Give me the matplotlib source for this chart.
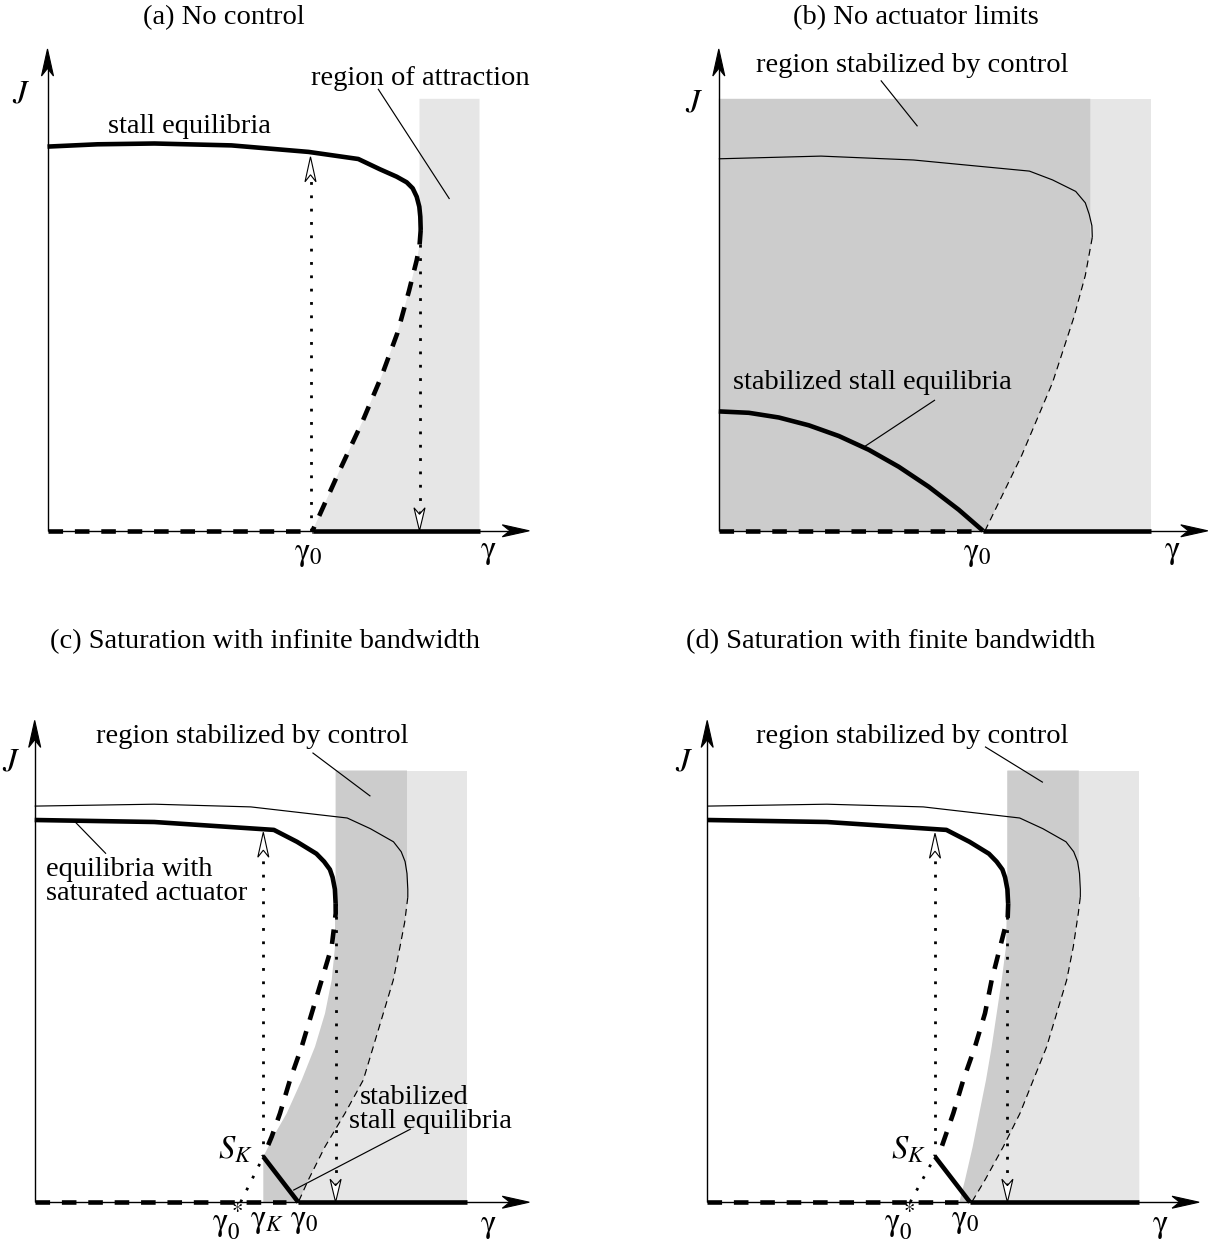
import numpy as np
import matplotlib
matplotlib.use("Agg")
import matplotlib.pyplot as plt
from matplotlib.patches import Polygon

plt.rcParams['font.family'] = ['Liberation Serif', 'DejaVu Serif']
plt.rcParams['mathtext.fontset'] = 'stix'
plt.rcParams['lines.scale_dashes'] = False

# ---------------------------------------------------------------- data (γ, J)
# (a) No control
a_stall_g = [0.0, 0.5, 1.07, 1.84, 2.61, 3.108, 3.325, 3.492, 3.592, 3.652, 3.692, 3.718, 3.728, 3.732]
a_stall_J = [3.842, 3.865, 3.873, 3.854, 3.789, 3.718, 3.615, 3.541, 3.485, 3.425, 3.341, 3.241, 3.141, 3.008]
a_unst_g = [3.732, 3.72, 3.692, 3.615, 3.499, 3.345, 3.152, 2.92, 2.65]
a_unst_J = [3.008, 2.85, 2.706, 2.399, 1.978, 1.558, 1.098, 0.601, 0.0]
a_gamma0 = 2.65
a_region = (3.72, 4.32, 4.32)          # left γ, right γ, top J
a_jump_up = (2.63, 3.74)               # γ, J reached on the stall branch
a_jump_down = (3.72, 3.0)              # γ, J at the fold

# (b) No actuator limits
b_open_g = [0.0, 1.022, 1.948, 3.106, 3.337, 3.569, 3.665, 3.704, 3.731, 3.735]
b_open_J = [3.72, 3.747, 3.708, 3.597, 3.509, 3.394, 3.28, 3.165, 3.05, 2.935]
b_open_unst_g = [3.735, 3.665, 3.55, 3.337, 3.029, 2.662]
b_open_unst_J = [2.935, 2.553, 2.132, 1.481, 0.754, 0.0]
b_stab_g = [0.0, 0.3, 0.6, 0.9, 1.2, 1.5, 1.8, 2.1, 2.4, 2.642]
b_stab_J = [1.194, 1.18, 1.133, 1.055, 0.948, 0.81, 0.64, 0.44, 0.21, 0.0]
b_gamma0 = 2.642
b_region = (3.715, 4.322, 4.32)

# (c) Saturation with infinite bandwidth
c_open_g = [0.0, 1.196, 2.161, 3.125, 3.357, 3.588, 3.665, 3.704, 3.723, 3.731, 3.731]
c_open_J = [3.961, 3.98, 3.953, 3.842, 3.735, 3.604, 3.505, 3.406, 3.287, 3.129, 3.05]
c_open_unst_g = [3.731, 3.70, 3.653, 3.586, 3.486, 3.386, 3.286, 3.103, 2.903, 2.736, 2.636]
c_open_unst_J = [3.05, 2.8, 2.555, 2.222, 1.889, 1.555, 1.222, 0.889, 0.555, 0.222, 0.0]
c_sat_g = [0.0, 1.196, 2.392, 2.623, 2.817, 2.894, 2.952, 2.979, 3.002, 3.009]
c_sat_J = [3.822, 3.802, 3.723, 3.604, 3.485, 3.406, 3.327, 3.248, 3.129, 2.99]
c_sat_unst_g = [3.009, 3.01, 2.97, 2.87, 2.77, 2.67, 2.553, 2.453, 2.37, 2.286]
c_sat_unst_J = [2.99, 2.888, 2.555, 2.222, 1.889, 1.555, 1.222, 0.889, 0.655, 0.455]
c_band_left_g = [3.009, 3.009, 3.003, 3.003, 2.97, 2.903, 2.803, 2.67, 2.52, 2.386, 2.286, 2.286]
c_band_left_J = [4.317, 3.22, 2.89, 2.555, 2.222, 1.888, 1.555, 1.222, 0.888, 0.655, 0.455, 0.0]
c_SK = (2.286, 0.455)
c_gamma0 = 2.636
c_gamma0_star = 2.059
c_region = (3.009, 3.723, 4.321, 4.317)   # left γ, stabilized right γ, right γ, top J
c_jump_up_J = 3.70
c_jump_down = (3.009, 2.99)

# (d) Saturation with finite bandwidth
d_open_g = c_open_g
d_open_J = c_open_J
d_open_unst_g = [3.731, 3.711, 3.661, 3.595, 3.495, 3.395, 3.261, 3.128, 2.961, 2.778, 2.645]
d_open_unst_J = [3.05, 2.889, 2.555, 2.222, 1.889, 1.555, 1.222, 0.889, 0.555, 0.222, 0.0]
d_sat_g = c_sat_g
d_sat_J = c_sat_J
d_sat_unst_g = [3.01, 3.005, 2.93, 2.845, 2.778, 2.678, 2.561, 2.461, 2.345, 2.278]
d_sat_unst_J = [2.99, 2.85, 2.555, 2.222, 1.889, 1.555, 1.222, 0.889, 0.555, 0.455]
d_band_left_g = [3.002, 3.002, 2.988, 2.945, 2.895, 2.845, 2.788, 2.721, 2.655, 2.578, 2.521]
d_band_left_J = [4.317, 3.22, 2.555, 2.222, 1.889, 1.555, 1.222, 0.889, 0.555, 0.222, 0.0]
d_SK = (2.278, 0.455)
d_gamma0 = 2.628
d_gamma0_star = 2.03
d_region = (3.002, 3.716, 4.321, 4.317)
d_jump_up_J = 3.69
d_jump_down = (3.002, 2.99)

# ---------------------------------------------------------------- styling
W, H = 1210, 1241
LIGHT = '#e6e6e6'
DARK = '#cccccc'
FS = 20.5
FS_MATH = 23.5
THICK = 3.3
THIN = 0.85
AX_LW = 1.0
DASH_THICK = (10.5, 8.5)
DASH_THIN = (5.0, 3.5)
DOTS = (2.0, 7.6)

fig = plt.figure(figsize=(W / 100, H / 100), dpi=100)


def panel(box, origin):
    """Axes whose data unit is 100 px, with (0, 0) at the given pixel origin."""
    x0, y0, x1, y1 = box
    ox, oy = origin
    ax = fig.add_axes([x0 / W, 1 - y1 / H, (x1 - x0) / W, (y1 - y0) / H])
    ax.set_xlim((x0 - ox) / 100, (x1 - ox) / 100)
    ax.set_ylim((oy - y1) / 100, (oy - y0) / 100)
    ax.axis('off')
    return ax


def head(ax, tip, d, length=0.27, width=0.12, filled=True, z=7):
    tip = np.asarray(tip, float)
    d = np.asarray(d, float)
    d = d / np.linalg.norm(d)
    n = np.array([-d[1], d[0]])
    base = tip - length * d
    pts = [tip, base + n * width / 2, tip - 0.72 * length * d, base - n * width / 2]
    ax.add_patch(Polygon(pts, closed=True, fc='black' if filled else 'white',
                         ec='black', lw=0.8, zorder=z, joinstyle='miter'))


def line(ax, g, J, lw, dashes=None, z=5):
    ln, = ax.plot(g, J, color='black', lw=lw, zorder=z, solid_capstyle='butt',
                  solid_joinstyle='round', dash_capstyle='butt')
    if dashes is not None:
        ln.set_dashes(dashes)
    return ln


def axes_arrows(ax, xlen, ylen):
    line(ax, [0, xlen - 0.15], [0, 0], AX_LW, z=3)
    line(ax, [0, 0], [0, ylen - 0.15], AX_LW, z=3)
    head(ax, (xlen, 0), (1, 0))
    head(ax, (0, ylen), (0, 1))


def dotted_arrow(ax, start, tip, hl=0.25):
    start = np.asarray(start, float)
    tip = np.asarray(tip, float)
    d = (tip - start) / np.linalg.norm(tip - start)
    end = tip - hl * 0.7 * d
    line(ax, [start[0], end[0]], [start[1], end[1]], 2.0, DOTS, z=6)
    head(ax, tip, d, length=hl, width=0.11, filled=False)


def txt(ax, x, y, s, ha='center', va='center', fs=FS):
    ax.text(x, y, s, ha=ha, va=va, fontsize=fs, zorder=10, clip_on=False)


def mtxt(ax, x, y, s, ha='center', va='center'):
    txt(ax, x, y, s, ha=ha, va=va, fs=FS_MATH)


def leader(ax, p, q):
    line(ax, [p[0], q[0]], [p[1], q[1]], THIN, z=8)


G0 = r'$\mathrm{\gamma}_0$'
GAM = r'$\mathrm{\gamma}$'

# ---------------------------------------------------------------- (a)
ax = panel((0, 0, 605, 610), (47.5, 530.8))
l, r, top = a_region
roa = list(zip(a_unst_g[::-1], a_unst_J[::-1])) + [(l, a_unst_J[0]), (l, top), (r, top), (r, 0)]
ax.add_patch(Polygon(roa, closed=True, fc=LIGHT, ec='none', zorder=1))
axes_arrows(ax, 4.818, 4.818)
line(ax, [0, a_gamma0], [0, 0], THICK, DASH_THICK)
line(ax, [a_gamma0, r], [0, 0], THICK)
line(ax, a_stall_g, a_stall_J, THICK)
line(ax, a_unst_g, a_unst_J, THICK, DASH_THICK)
dotted_arrow(ax, (a_jump_up[0], 0), a_jump_up)
dotted_arrow(ax, a_jump_down, (a_jump_down[0], 0), hl=0.23)
txt(ax, 1.765, 5.136, '(a) No control')
txt(ax, 3.73, 4.523, 'region of attraction')
leader(ax, (3.305, 4.42), (4.02, 3.318))
txt(ax, 1.422, 4.045, 'stall equilibria')
mtxt(ax, -0.265, 4.37, r'$J$')
mtxt(ax, 2.611, -0.23, G0)
mtxt(ax, 4.405, -0.21, GAM)

# ---------------------------------------------------------------- (b)
ax = panel((605, 0, 1210, 610), (718.8, 530.8))
l, r, top = b_region
ax.add_patch(Polygon([(0, 0), (0, top), (r, top), (r, 0)], closed=True, fc=LIGHT, ec='none', zorder=1))
stab = [(0, 0), (0, top), (l, top), (l, b_open_unst_J[0])] + list(zip(b_open_unst_g, b_open_unst_J))
ax.add_patch(Polygon(stab, closed=True, fc=DARK, ec='none', zorder=2))
axes_arrows(ax, 4.89, 4.818)
line(ax, [0, b_gamma0], [0, 0], THICK, DASH_THICK)
line(ax, [b_gamma0, r], [0, 0], THICK)
line(ax, b_open_g, b_open_J, THIN)
line(ax, b_open_unst_g, b_open_unst_J, THIN, DASH_THIN)
line(ax, b_stab_g, b_stab_J, THICK)
txt(ax, 1.968, 5.136, '(b) No actuator limits')
txt(ax, 1.932, 4.658, 'region stabilized by control')
leader(ax, (1.62, 4.504), (1.987, 4.045))
txt(ax, 1.532, 1.481, 'stabilized stall equilibria')
leader(ax, (2.162, 1.308), (1.439, 0.83))
mtxt(ax, -0.251, 4.275, r'$J$')
mtxt(ax, 2.582, -0.23, G0)
mtxt(ax, 4.532, -0.21, GAM)


# ---------------------------------------------------------------- (c), (d)
def saturated_panel(ax, region, open_g, open_J, ou_g, ou_J, sat_g, sat_J, su_g, su_J,
                    band_g, band_J, SK, gamma0, gamma0_star, jump_up_J, jump_down, xlen):
    l, rs, r, top = region
    ax.add_patch(Polygon([(l, 0), (l, top), (r, top), (r, 0)], closed=True, fc=LIGHT, ec='none', zorder=1))
    under = list(zip(ou_g, ou_J))[::-1] + [(r, ou_J[0]), (r, 0)]
    ax.add_patch(Polygon(under, closed=True, fc=LIGHT, ec='none', zorder=1))
    band = list(zip(band_g, band_J)) + list(zip(ou_g[::-1], ou_J[::-1])) + [(rs, ou_J[0]), (rs, top)]
    ax.add_patch(Polygon(band, closed=True, fc=DARK, ec='none', zorder=2))
    axes_arrows(ax, xlen, 4.818)
    line(ax, [0, gamma0 - 0.12], [0, 0], THICK, DASH_THICK)
    line(ax, [gamma0, r], [0, 0], THICK)
    line(ax, open_g, open_J, THIN)
    line(ax, ou_g, ou_J, THIN, DASH_THIN)
    line(ax, sat_g, sat_J, THICK)
    line(ax, su_g, su_J, THICK, DASH_THICK)
    line(ax, [SK[0], gamma0], [SK[1], 0], THICK)
    line(ax, [gamma0_star, SK[0]], [0, SK[1]], 2.0, DOTS, z=6)
    dotted_arrow(ax, SK, (SK[0], jump_up_J))
    dotted_arrow(ax, jump_down, (jump_down[0], 0), hl=0.23)
    mtxt(ax, -0.231, 4.396, r'$J$')
    mtxt(ax, 4.533, -0.235, GAM)


ax = panel((0, 610, 605, 1241), (34.7, 1202.2))
saturated_panel(ax, c_region, c_open_g, c_open_J, c_open_unst_g, c_open_unst_J,
                c_sat_g, c_sat_J, c_sat_unst_g, c_sat_unst_J, c_band_left_g, c_band_left_J,
                c_SK, c_gamma0, c_gamma0_star, c_jump_up_J, c_jump_down, 4.946)
txt(ax, 2.3, 5.604, '(c) Saturation with infinite bandwidth')
txt(ax, 2.173, 4.654, 'region stabilized by control')
leader(ax, (2.778, 4.495), (3.357, 4.06))
txt(ax, 0.116, 3.327, 'equilibria with', ha='left')
txt(ax, 0.116, 3.089, 'saturated actuator', ha='left')
leader(ax, (0.713, 3.485), (0.405, 3.802))
txt(ax, 3.791, 1.05, 'stabilized')
txt(ax, 3.953, 0.812, 'stall equilibria')
leader(ax, (3.762, 0.733), (2.585, 0.119))
mtxt(ax, 2.003, 0.52, r'$S_K$')
mtxt(ax, 1.933, -0.19, r'$\mathrm{\gamma}_0^*$')
mtxt(ax, 2.323, -0.19, r'$\mathrm{\gamma}_K$')
mtxt(ax, 2.693, -0.19, G0)

ax = panel((605, 610, 1210, 1241), (707.2, 1202.2))
saturated_panel(ax, d_region, d_open_g, d_open_J, d_open_unst_g, d_open_unst_J,
                d_sat_g, d_sat_J, d_sat_unst_g, d_sat_unst_J, d_band_left_g, d_band_left_J,
                d_SK, d_gamma0, d_gamma0_star, d_jump_up_J, d_jump_down, 4.919)
txt(ax, 1.833, 5.604, '(d) Saturation with finite bandwidth')
txt(ax, 2.051, 4.654, 'region stabilized by control')
leader(ax, (2.778, 4.555), (3.357, 4.198))
mtxt(ax, 2.008, 0.52, r'$S_K$')
mtxt(ax, 1.928, -0.19, r'$\mathrm{\gamma}_0^*$')
mtxt(ax, 2.578, -0.19, G0)

fig.savefig('out.png', dpi=100, facecolor='white')
